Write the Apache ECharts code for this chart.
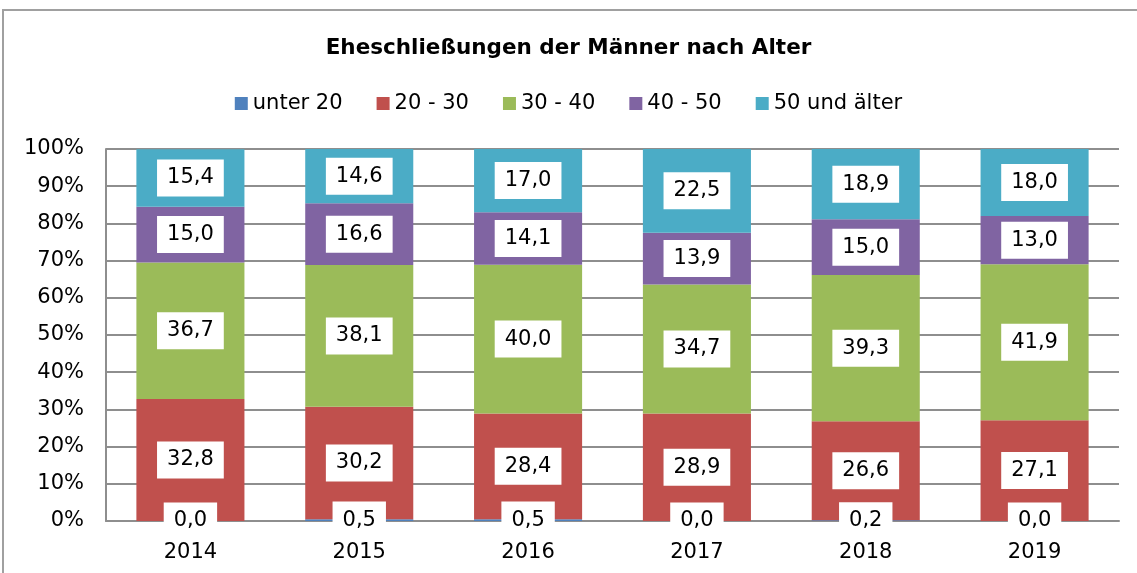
<!DOCTYPE html>
<html>
<head>
<meta charset="utf-8">
<title>Eheschließungen der Männer nach Alter</title>
<script src="https://cdn.jsdelivr.net/npm/echarts@6/dist/echarts.min.js"></script>
<style>
  html, body { margin: 0; padding: 0; background: #fff; }
  #chart { width: 1137px; height: 573px; }
</style>
</head>
<body>
<div id="chart"></div>
<script>
// Jahre
var years = ["2014", "2015", "2016", "2017", "2018", "2019"];
// Anteile in Prozent je Altersgruppe
var unter20 = [0.0, 0.5, 0.5, 0.0, 0.2, 0.0];
var age20to30 = [32.8, 30.2, 28.4, 28.9, 26.6, 27.1];
var age30to40 = [36.7, 38.1, 40.0, 34.7, 39.3, 41.9];
var age40to50 = [15.0, 16.6, 14.1, 13.9, 15.0, 13.0];
var age50plus = [15.4, 14.6, 17.0, 22.5, 18.9, 18.0];
var yTicks = [0, 10, 20, 30, 40, 50, 60, 70, 80, 90, 100];

var font = "DejaVu Sans";
var gridColor = "#8e8e8e";

function makeSeries(name, data, color) {
  return {
    name: name,
    type: "bar",
    stack: "total",
    data: data,
    barCategoryGap: "36%",
    itemStyle: { color: color },
    label: {
      show: true,
      position: "inside",
      color: "#000",
      fontFamily: font,
      fontSize: 21,
      lineHeight: 21,
      backgroundColor: "#fff",
      padding: [8, 10, 8, 10],
      formatter: function (p) {
        return p.value.toFixed(1).replace(".", ",");
      }
    }
  };
}

var myChart = echarts.init(document.getElementById("chart"));

var option = {
  animation: false,
  backgroundColor: "#fff",
  graphic: [
    {
      type: "polyline",
      shape: { points: [[3, 600], [3, 10], [1140, 10]] },
      style: { stroke: "#a0a0a0", lineWidth: 2, fill: null },
      silent: true
    }
  ],
  title: {
    text: "Eheschließungen der Männer nach Alter",
    left: "center",
    top: 32,
    textStyle: {
      fontFamily: font,
      fontSize: 21.5,
      fontWeight: "bold",
      color: "#000"
    }
  },
  legend: {
    top: 88,
    left: "center",
    icon: "rect",
    itemWidth: 13,
    itemHeight: 13,
    itemGap: 34,
    textStyle: { fontFamily: font, fontSize: 21, color: "#000" }
  },
  grid: {
    left: 106,
    right: 18,
    top: 149,
    bottom: 52
  },
  xAxis: {
    type: "category",
    data: years,
    axisLine: { lineStyle: { color: gridColor, width: 2 } },
    axisTick: { show: false },
    axisLabel: {
      margin: 21,
      fontFamily: font,
      fontSize: 21,
      color: "#000"
    }
  },
  yAxis: {
    type: "value",
    min: yTicks[0],
    max: yTicks[yTicks.length - 1],
    interval: 10,
    axisLine: { show: true, lineStyle: { color: gridColor, width: 2 } },
    axisTick: { show: false },
    axisLabel: {
      margin: 22,
      fontFamily: font,
      fontSize: 21,
      color: "#000",
      formatter: "{value}%"
    },
    splitLine: { lineStyle: { color: gridColor, width: 2 } }
  },
  series: [
    makeSeries("unter 20", unter20, "#4F81BD"),
    makeSeries("20 - 30", age20to30, "#C0504D"),
    makeSeries("30 - 40", age30to40, "#9BBB59"),
    makeSeries("40 - 50", age40to50, "#8064A2"),
    makeSeries("50 und älter", age50plus, "#4BACC6")
  ]
};

myChart.setOption(option);
</script>
</body>
</html>
